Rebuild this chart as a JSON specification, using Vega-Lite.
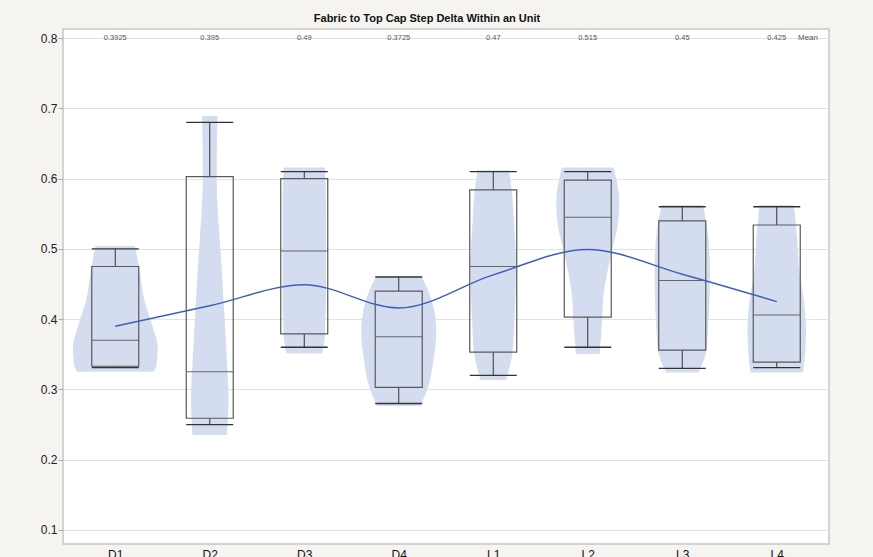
{
  "$schema": "https://vega.github.io/schema/vega-lite/v6.json",
  "width": 766,
  "height": 515,
  "autosize": {"type": "none"},
  "padding": {"left": 63, "top": 29, "right": 44, "bottom": 13},
  "background": "#f5f4f1",
  "title": {"text": "Fabric to Top Cap Step Delta Within an Unit", "font": "Liberation Sans", "fontSize": 11, "fontWeight": "bold", "color": "#111111", "offset": 5, "dx": -19, "anchor": "middle"},
  "config": {"view": {"fill": "white", "stroke": "#c6c6c6", "strokeWidth": 1.5}, "font": "Liberation Sans"},
  "datasets": {
    "boxes": [
      {"cat": "D1", "c": 1, "min": 0.331, "q1": 0.333, "median": 0.37, "q3": 0.475, "max": 0.5, "mean": "0.3925", "smooth": 0.39},
      {"cat": "D2", "c": 2, "min": 0.25, "q1": 0.259, "median": 0.325, "q3": 0.603, "max": 0.68, "mean": "0.395", "smooth": 0.419},
      {"cat": "D3", "c": 3, "min": 0.36, "q1": 0.379, "median": 0.497, "q3": 0.6, "max": 0.61, "mean": "0.49", "smooth": 0.449},
      {"cat": "D4", "c": 4, "min": 0.28, "q1": 0.303, "median": 0.375, "q3": 0.44, "max": 0.46, "mean": "0.3725", "smooth": 0.416},
      {"cat": "L1", "c": 5, "min": 0.32, "q1": 0.353, "median": 0.475, "q3": 0.584, "max": 0.61, "mean": "0.47", "smooth": 0.463},
      {"cat": "L2", "c": 6, "min": 0.36, "q1": 0.403, "median": 0.545, "q3": 0.598, "max": 0.61, "mean": "0.515", "smooth": 0.499},
      {"cat": "L3", "c": 7, "min": 0.33, "q1": 0.356, "median": 0.455, "q3": 0.54, "max": 0.56, "mean": "0.45", "smooth": 0.464},
      {"cat": "L4", "c": 8, "min": 0.331, "q1": 0.339, "median": 0.406, "q3": 0.534, "max": 0.56, "mean": "0.425", "smooth": 0.425}
    ],
    "violin": [
      {"cat": "D1", "v": 0.504, "lo": 0.791, "hi": 1.209},
      {"cat": "D1", "v": 0.475, "lo": 0.749, "hi": 1.251},
      {"cat": "D1", "v": 0.427, "lo": 0.692, "hi": 1.308},
      {"cat": "D1", "v": 0.389, "lo": 0.603, "hi": 1.397},
      {"cat": "D1", "v": 0.36, "lo": 0.551, "hi": 1.449},
      {"cat": "D1", "v": 0.337, "lo": 0.561, "hi": 1.439},
      {"cat": "D1", "v": 0.325, "lo": 0.593, "hi": 1.407},
      {"cat": "D2", "v": 0.689, "lo": 1.919, "hi": 2.081},
      {"cat": "D2", "v": 0.603, "lo": 1.927, "hi": 2.073},
      {"cat": "D2", "v": 0.475, "lo": 1.875, "hi": 2.125},
      {"cat": "D2", "v": 0.427, "lo": 1.854, "hi": 2.146},
      {"cat": "D2", "v": 0.36, "lo": 1.826, "hi": 2.174},
      {"cat": "D2", "v": 0.285, "lo": 1.802, "hi": 2.198},
      {"cat": "D2", "v": 0.235, "lo": 1.817, "hi": 2.183},
      {"cat": "D3", "v": 0.616, "lo": 2.781, "hi": 3.219},
      {"cat": "D3", "v": 0.55, "lo": 2.77, "hi": 3.23},
      {"cat": "D3", "v": 0.45, "lo": 2.77, "hi": 3.23},
      {"cat": "D3", "v": 0.38, "lo": 2.781, "hi": 3.219},
      {"cat": "D3", "v": 0.36, "lo": 2.796, "hi": 3.204},
      {"cat": "D3", "v": 0.351, "lo": 2.812, "hi": 3.188},
      {"cat": "D4", "v": 0.461, "lo": 3.76, "hi": 4.24},
      {"cat": "D4", "v": 0.44, "lo": 3.687, "hi": 4.313},
      {"cat": "D4", "v": 0.418, "lo": 3.634, "hi": 4.366},
      {"cat": "D4", "v": 0.382, "lo": 3.603, "hi": 4.397},
      {"cat": "D4", "v": 0.337, "lo": 3.638, "hi": 4.362},
      {"cat": "D4", "v": 0.309, "lo": 3.676, "hi": 4.324},
      {"cat": "D4", "v": 0.2765, "lo": 3.77, "hi": 4.23},
      {"cat": "L1", "v": 0.612, "lo": 4.833, "hi": 5.167},
      {"cat": "L1", "v": 0.584, "lo": 4.805, "hi": 5.195},
      {"cat": "L1", "v": 0.539, "lo": 4.781, "hi": 5.219},
      {"cat": "L1", "v": 0.476, "lo": 4.76, "hi": 5.24},
      {"cat": "L1", "v": 0.3965, "lo": 4.777, "hi": 5.223},
      {"cat": "L1", "v": 0.353, "lo": 4.796, "hi": 5.204},
      {"cat": "L1", "v": 0.3135, "lo": 4.864, "hi": 5.136},
      {"cat": "L2", "v": 0.616, "lo": 5.728, "hi": 6.272},
      {"cat": "L2", "v": 0.567, "lo": 5.666, "hi": 6.334},
      {"cat": "L2", "v": 0.53, "lo": 5.687, "hi": 6.313},
      {"cat": "L2", "v": 0.5, "lo": 5.739, "hi": 6.261},
      {"cat": "L2", "v": 0.434, "lo": 5.833, "hi": 6.167},
      {"cat": "L2", "v": 0.3965, "lo": 5.849, "hi": 6.151},
      {"cat": "L2", "v": 0.3505, "lo": 5.875, "hi": 6.125},
      {"cat": "L3", "v": 0.5625, "lo": 6.781, "hi": 7.219},
      {"cat": "L3", "v": 0.513, "lo": 6.721, "hi": 7.279},
      {"cat": "L3", "v": 0.465, "lo": 6.708, "hi": 7.292},
      {"cat": "L3", "v": 0.37, "lo": 6.734, "hi": 7.266},
      {"cat": "L3", "v": 0.356, "lo": 6.742, "hi": 7.258},
      {"cat": "L3", "v": 0.324, "lo": 6.828, "hi": 7.172},
      {"cat": "L4", "v": 0.5625, "lo": 7.817, "hi": 8.183},
      {"cat": "L4", "v": 0.513, "lo": 7.783, "hi": 8.217},
      {"cat": "L4", "v": 0.466, "lo": 7.76, "hi": 8.24},
      {"cat": "L4", "v": 0.434, "lo": 7.721, "hi": 8.279},
      {"cat": "L4", "v": 0.385, "lo": 7.69, "hi": 8.31},
      {"cat": "L4", "v": 0.356, "lo": 7.697, "hi": 8.303},
      {"cat": "L4", "v": 0.324, "lo": 7.721, "hi": 8.279}
    ]
  },
  "layer": [
    {
      "data": {"name": "violin"},
      "mark": {"type": "area", "orient": "horizontal", "color": "#d4ddef", "opacity": 1, "interpolate": "monotone"},
      "encoding": {
        "y": {"field": "v", "type": "quantitative", "scale": {"domain": [0.08, 0.813], "nice": false, "zero": false},
              "axis": {"title": null, "values": [0.1, 0.2, 0.3, 0.4, 0.5, 0.6, 0.7, 0.8], "format": ".1f", "labelFontSize": 12, "labelColor": "#222222", "labelPadding": 1, "tickSize": 5, "tickColor": "#aaaaaa", "domain": false, "grid": true, "gridColor": "#e2e2e2", "gridWidth": 1}},
        "x": {"field": "lo", "type": "quantitative", "scale": {"domain": [0.5, 8.5], "nice": false, "zero": false},
              "axis": {"title": null, "values": [1, 2, 3, 4, 5, 6, 7, 8], "labelExpr": "['D1','D2','D3','D4','L1','L2','L3','L4'][datum.value - 1]", "labelFontSize": 12, "labelColor": "#111111", "labelPadding": 5, "ticks": false, "domain": false, "grid": false}},
        "x2": {"field": "hi"},
        "detail": {"field": "cat", "type": "nominal"}
      }
    },
    {
      "data": {"name": "boxes"},
      "mark": {"type": "rule", "color": "#333333", "strokeWidth": 1},
      "encoding": {
        "x": {"field": "c", "type": "quantitative", "scale": {"domain": [0.5, 8.5]}},
        "y": {"field": "q3", "type": "quantitative"},
        "y2": {"field": "max"}
      }
    },
    {
      "data": {"name": "boxes"},
      "mark": {"type": "rule", "color": "#333333", "strokeWidth": 1},
      "encoding": {
        "x": {"field": "c", "type": "quantitative", "scale": {"domain": [0.5, 8.5]}},
        "y": {"field": "min", "type": "quantitative"},
        "y2": {"field": "q1"}
      }
    },
    {
      "data": {"name": "boxes"},
      "mark": {"type": "bar", "width": 47, "filled": false, "stroke": "#5a5a5a", "strokeWidth": 1.2},
      "encoding": {
        "x": {"field": "c", "type": "quantitative", "scale": {"domain": [0.5, 8.5]}},
        "y": {"field": "q1", "type": "quantitative"},
        "y2": {"field": "q3"}
      }
    },
    {
      "data": {"name": "boxes"},
      "mark": {"type": "tick", "orient": "horizontal", "size": 47, "thickness": 1.3, "color": "#333333", "opacity": 1},
      "encoding": {
        "x": {"field": "c", "type": "quantitative", "scale": {"domain": [0.5, 8.5]}},
        "y": {"field": "max", "type": "quantitative"}
      }
    },
    {
      "data": {"name": "boxes"},
      "mark": {"type": "tick", "orient": "horizontal", "size": 47, "thickness": 1.3, "color": "#333333", "opacity": 1},
      "encoding": {
        "x": {"field": "c", "type": "quantitative", "scale": {"domain": [0.5, 8.5]}},
        "y": {"field": "min", "type": "quantitative"}
      }
    },
    {
      "data": {"name": "boxes"},
      "mark": {"type": "tick", "orient": "horizontal", "size": 47, "thickness": 1, "color": "#666666", "opacity": 1},
      "encoding": {
        "x": {"field": "c", "type": "quantitative", "scale": {"domain": [0.5, 8.5]}},
        "y": {"field": "median", "type": "quantitative"}
      }
    },
    {
      "data": {"name": "boxes"},
      "mark": {"type": "line", "color": "#3d5fb8", "strokeWidth": 1.5, "interpolate": "monotone"},
      "encoding": {
        "x": {"field": "c", "type": "quantitative", "scale": {"domain": [0.5, 8.5]}},
        "y": {"field": "smooth", "type": "quantitative"}
      }
    },
    {
      "data": {"name": "boxes"},
      "mark": {"type": "text", "fontSize": 7.5, "color": "#555555", "baseline": "middle", "align": "center"},
      "encoding": {
        "x": {"field": "c", "type": "quantitative", "scale": {"domain": [0.5, 8.5]}},
        "y": {"datum": 0.8},
        "text": {"field": "mean", "type": "nominal"}
      }
    },
    {
      "data": {"values": [{"label": "Mean"}]},
      "mark": {"type": "text", "fontSize": 8, "color": "#555555", "baseline": "middle", "align": "right", "dx": -6},
      "encoding": {
        "x": {"datum": 8.5},
        "y": {"datum": 0.8},
        "text": {"field": "label", "type": "nominal"}
      }
    }
  ]
}
